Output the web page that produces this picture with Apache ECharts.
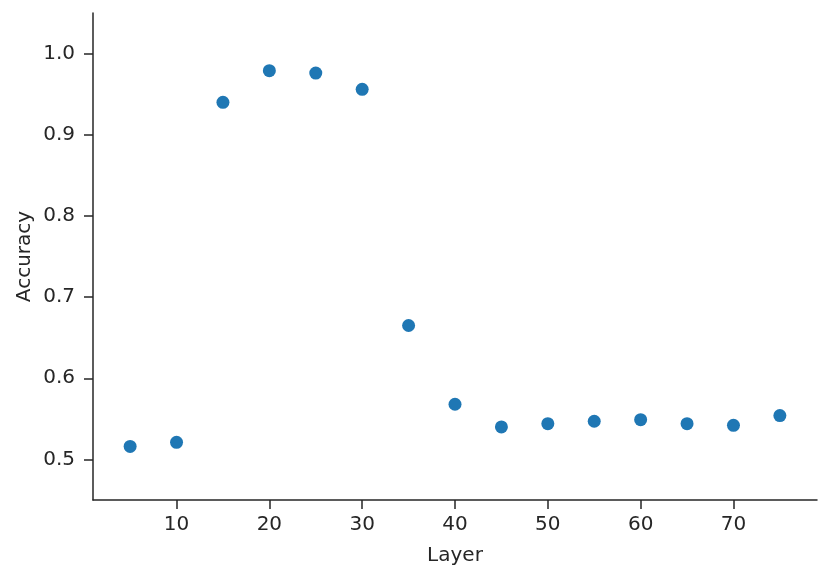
<!DOCTYPE html>
<html><head><meta charset="utf-8">
<script src="https://cdn.jsdelivr.net/npm/echarts@6/dist/echarts.min.js"></script>
<style>html,body{margin:0;padding:0;background:#fff}#c{width:831px;height:580px}</style>
</head><body><div id="c"></div>
<script>
const layers = [5, 10, 15, 20, 25, 30, 35, 40, 45, 50, 55, 60, 65, 70, 75];
const accuracy = [0.516, 0.521, 0.940, 0.979, 0.976, 0.956, 0.665, 0.568, 0.540, 0.544, 0.547, 0.549, 0.544, 0.542, 0.554];
const xTicks = [10, 20, 30, 40, 50, 60, 70];
const yTicks = [0.5, 0.6, 0.7, 0.8, 0.9, 1.0];

const chart = echarts.init(document.getElementById('c'));
const txt = '#262626';
const font = 'DejaVu Sans';
chart.setOption({
  animation: false,
  backgroundColor: '#fff',
  grid: {left: 93, top: 13, right: 14, bottom: 80, containLabel: false},
  xAxis: {
    type: 'value', min: 1, max: 79, interval: 10,
    name: 'Layer', nameLocation: 'middle', nameGap: 46,
    nameTextStyle: {color: txt, fontFamily: font, fontSize: 20},
    axisLine: {show: true, onZero: false, lineStyle: {color: txt, width: 1.5}},
    axisTick: {show: true, length: 9, lineStyle: {color: txt, width: 1.5},
      customValues: xTicks},
    axisLabel: {color: txt, fontFamily: font, fontSize: 20, margin: 15,
      customValues: xTicks},
    splitLine: {show: false}
  },
  yAxis: {
    type: 'value', min: 0.45, max: 1.05,
    name: 'Accuracy', nameLocation: 'middle', nameGap: 58, nameRotate: 90,
    nameMoveOverlap: false,
    nameTextStyle: {color: txt, fontFamily: font, fontSize: 20},
    axisLine: {show: true, onZero: false, lineStyle: {color: txt, width: 1.5}},
    axisTick: {show: true, length: 9, lineStyle: {color: txt, width: 1.5},
      customValues: yTicks},
    axisLabel: {color: txt, fontFamily: font, fontSize: 20, margin: 18,
      customValues: yTicks, formatter: v => v.toFixed(1)},
    splitLine: {show: false}
  },
  series: [{
    type: 'scatter',
    data: layers.map((l, i) => [l, accuracy[i]]),
    symbolSize: 13,
    itemStyle: {color: '#1f77b4', opacity: 1}
  }]
});
</script></body></html>
